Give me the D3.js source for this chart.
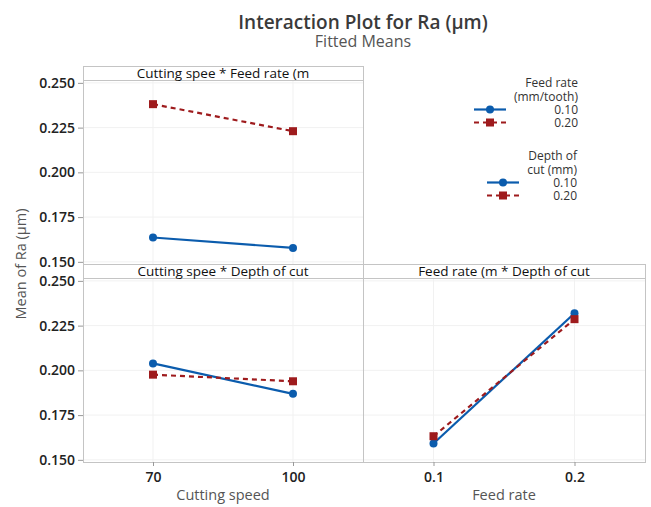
<!DOCTYPE html>
<html>
<head>
<meta charset="utf-8">
<script src="https://cdn.jsdelivr.net/npm/d3@7"></script>
<style>
  body { margin: 0; background: #fff; }
  svg { display: block; font-family: "Open Sans", "Noto Sans", sans-serif; }
</style>
</head>
<body>
<script>
// levels of the factors
const speedLevels = ["70", "100"];
const feedLevels = ["0.1", "0.2"];
const yTicks = [0.150, 0.175, 0.200, 0.225, 0.250];

// fitted means
const speedFeedLow = [0.1636, 0.1578];   // feed rate 0.10
const speedFeedHigh = [0.2381, 0.2230];  // feed rate 0.20
const speedDepthLow = [0.2039, 0.1869];  // depth 0.10
const speedDepthHigh = [0.1976, 0.1939]; // depth 0.20
const feedDepthLow = [0.1591, 0.2319];   // depth 0.10
const feedDepthHigh = [0.1632, 0.2286];  // depth 0.20

const legendLevels = ["0.10", "0.20"];

const width = 651, height = 507;
const blue = "#0b5cad", red = "#9e1b1d";
const gridColor = "#f1f1f1", borderColor = "#c4c4c4";

const svg = d3.select("body").append("svg")
    .attr("width", width)
    .attr("height", height);

// panel geometry
const colX = [83, 363, 645];
const stripH = 14;
const rows = [{ top: 66 }, { top: 264 }];
const plotH = 184;

const y = (row) => d3.scaleLinear()
  .domain([0.1488, 0.2516])
  .range([rows[row].top + stripH + plotH, rows[row].top + stripH]);

const panels = [
  { row: 0, col: 0, title: "Cutting spee * Feed rate (m", levels: speedLevels,
    series: [speedFeedLow, speedFeedHigh], yAxis: true, xAxis: false },
  { row: 1, col: 0, title: "Cutting spee * Depth of cut", levels: speedLevels,
    series: [speedDepthLow, speedDepthHigh], yAxis: true, xAxis: true, xLabel: "Cutting speed" },
  { row: 1, col: 1, title: "Feed rate (m * Depth of cut", levels: feedLevels,
    series: [feedDepthLow, feedDepthHigh], yAxis: false, xAxis: true, xLabel: "Feed rate" }
];

const seriesStyle = [
  { color: blue, dash: null, shape: "circle" },
  { color: red, dash: "5,4", shape: "square" }
];

function drawMarker(g, shape, cx, cy, color) {
  if (shape === "circle") {
    g.append("circle").attr("cx", cx).attr("cy", cy).attr("r", 4).attr("fill", color);
  } else {
    g.append("rect").attr("x", cx - 4).attr("y", cy - 4)
      .attr("width", 8).attr("height", 8).attr("fill", color);
  }
}

panels.forEach(p => {
  const x0 = colX[p.col], x1 = colX[p.col + 1];
  const top = rows[p.row].top;
  const yScale = y(p.row);
  const x = d3.scalePoint().domain(p.levels).range([x0, x1]).padding(0.5);
  const g = svg.append("g");

  // gridlines
  g.selectAll(".hgrid").data(yTicks).enter().append("line")
    .attr("x1", x0).attr("x2", x1)
    .attr("y1", d => yScale(d)).attr("y2", d => yScale(d))
    .attr("stroke", gridColor).attr("stroke-width", 1);
  g.selectAll(".vgrid").data(p.levels).enter().append("line")
    .attr("x1", d => x(d)).attr("x2", d => x(d))
    .attr("y1", top + stripH).attr("y2", top + stripH + plotH)
    .attr("stroke", gridColor).attr("stroke-width", 1);

  // panel border and strip
  g.append("rect").attr("x", x0 + 0.5).attr("y", top + 0.5)
    .attr("width", x1 - x0).attr("height", stripH + plotH)
    .attr("fill", "none").attr("stroke", borderColor);
  g.append("line").attr("x1", x0).attr("x2", x1)
    .attr("y1", top + stripH + 0.5).attr("y2", top + stripH + 0.5)
    .attr("stroke", borderColor);
  g.append("text")
    .attr("x", (x0 + x1) / 2).attr("y", top + 12)
    .attr("text-anchor", "middle")
    .attr("font-size", 13.5).attr("font-weight", 500).attr("fill", "#111")
    .text(p.title);

  // y axis
  if (p.yAxis) {
    const ay = g.append("g")
      .attr("transform", `translate(${x0},0)`)
      .call(d3.axisLeft(yScale).tickValues(yTicks).tickFormat(d3.format(".3f")).tickSize(5).tickPadding(3));
    ay.select(".domain").remove();
    ay.selectAll(".tick line").attr("stroke", "#999");
    ay.selectAll("text").attr("font-size", 14).attr("font-weight", 600)
      .attr("fill", "#222").attr("font-family", "\"Open Sans\", sans-serif");
  }

  // x axis
  if (p.xAxis) {
    const ax = g.append("g")
      .attr("transform", `translate(0,${top + stripH + plotH})`)
      .call(d3.axisBottom(x).tickSize(4).tickPadding(6));
    ax.select(".domain").remove();
    ax.selectAll(".tick line").attr("stroke", "#999");
    ax.selectAll("text").attr("font-size", 14).attr("font-weight", 600)
      .attr("fill", "#222").attr("font-family", "\"Open Sans\", sans-serif");
    g.append("text")
      .attr("x", (x0 + x1) / 2).attr("y", 500)
      .attr("text-anchor", "middle")
      .attr("font-size", 14.5).attr("fill", "#555")
      .text(p.xLabel);
  }

  // lines and markers
  const line = d3.line().x((d, i) => x(p.levels[i])).y(d => yScale(d));
  p.series.forEach((s, si) => {
    const st = seriesStyle[si];
    g.append("path").datum(s)
      .attr("d", line)
      .attr("fill", "none")
      .attr("stroke", st.color)
      .attr("stroke-width", 2.2)
      .attr("stroke-dasharray", st.dash);
    s.forEach((v, i) => drawMarker(g, st.shape, x(p.levels[i]), yScale(v), st.color));
  });
});

// titles
svg.append("text")
  .attr("x", 363).attr("y", 29)
  .attr("text-anchor", "middle")
  .attr("font-size", 19).attr("font-weight", 600).attr("fill", "#3a3a3a")
  .text("Interaction Plot for Ra (µm)");
svg.append("text")
  .attr("x", 363).attr("y", 47)
  .attr("text-anchor", "middle")
  .attr("font-size", 16).attr("fill", "#555")
  .text("Fitted Means");

// y axis label
svg.append("text")
  .attr("transform", "translate(26,264) rotate(-90)")
  .attr("text-anchor", "middle")
  .attr("font-size", 14.5).attr("fill", "#555")
  .text("Mean of Ra (µm)");

// legends
const legends = [
  { title: ["Feed rate", "(mm/tooth)"], right: 578, top: 87, lx: [474, 506] },
  { title: ["Depth of", "cut (mm)"], right: 577, top: 160, lx: [487, 519] }
];
legends.forEach(lg => {
  const g = svg.append("g");
  lg.title.forEach((t, i) => {
    g.append("text").attr("x", lg.right).attr("y", lg.top + i * 13.5)
      .attr("text-anchor", "end").attr("font-size", 12).attr("fill", "#333")
      .text(t);
  });
  legendLevels.forEach((lv, i) => {
    const yy = lg.top + 26.5 + i * 13;
    const st = seriesStyle[i];
    g.append("line").attr("x1", lg.lx[0]).attr("x2", lg.lx[1])
      .attr("y1", yy - 4).attr("y2", yy - 4)
      .attr("stroke", st.color).attr("stroke-width", 2.2)
      .attr("stroke-dasharray", st.dash);
    drawMarker(g, st.shape, (lg.lx[0] + lg.lx[1]) / 2, yy - 4, st.color);
    g.append("text").attr("x", lg.right).attr("y", yy)
      .attr("text-anchor", "end").attr("font-size", 12).attr("fill", "#333")
      .text(lv);
  });
});
</script>
</body>
</html>
